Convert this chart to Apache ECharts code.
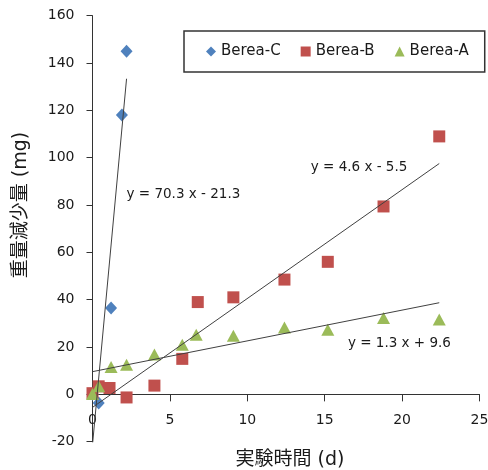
<!DOCTYPE html>
<html>
<head>
<meta charset="utf-8">
<script src="https://cdn.jsdelivr.net/npm/echarts@6/dist/echarts.min.js"></script>
<style>
html,body{margin:0;padding:0;background:#fff;}
#chart{width:488px;height:470px;}
</style>
</head>
<body>
<div id="chart"></div>
<script>
// ---- data ----
var seriesNames = ['Berea-C', 'Berea-B', 'Berea-A'];
var xC = [0, 0.4, 1.2, 1.9, 2.2];
var yC = [0, -3.6, 36.5, 118, 145];
var xB = [0, 0.4, 1.1, 2.2, 4.0, 5.8, 6.8, 9.1, 12.4, 15.2, 18.8, 22.4];
var yB = [0.5, 3.4, 2.7, -1.3, 3.7, 15, 39, 41, 48.5, 56, 79.4, 109];
var xA = [0, 0.4, 1.2, 2.2, 4.0, 5.8, 6.7, 9.1, 12.4, 15.2, 18.8, 22.4];
var yA = [0.2, 3.4, 11.6, 12.5, 16.8, 21, 25.2, 24.8, 28.3, 27.3, 32.3, 31.6];
var slopes = [70.3, 4.6, 1.3];
var intercepts = [-21.3, -5.5, 9.6];
var equations = ['y = 70.3 x - 21.3', 'y = 4.6 x - 5.5', 'y = 1.3 x + 9.6'];
var xTitle = '実験時間 (d)';
var yTitle = '重量減少量 (mg)';
var xRange = [0, 25, 5];
var yRange = [-20, 160, 20];

// ---- build ----
var xs = [xC, xB, xA];
var ys = [yC, yB, yA];
var colors = ['#4F81BD', '#C0504D', '#9BBB59'];
var symbols = ['diamond', 'rect', 'triangle'];
var symSizes = [[12, 13], [12, 12], [13, 12]];
var labelAnchors = [[2.2, 84.4], [14.1, 95.8], [16.5, 21.3]];
var FONT = "'DejaVu Sans', 'Noto Sans CJK JP', sans-serif";
var TXT = '#1a1a1a';

var W = 488, H = 470;
var G = { left: 92.5, right: 8.5, top: 15.7, bottom: 28.3 };
var gridH = H - G.top - G.bottom;
// x axis sits on y = 0
var zeroOffset = -gridH * (0 - yRange[0]) / (yRange[1] - yRange[0]);

function pairs(x, y) { return x.map(function (v, i) { return [v, y[i]]; }); }

var series = [];
for (var i = 0; i < 3; i++) {
  series.push({
    name: seriesNames[i], type: 'scatter', data: pairs(xs[i], ys[i]),
    symbol: symbols[i], symbolSize: symSizes[i],
    itemStyle: { color: colors[i], opacity: 1 }, z: 2 + i
  });
}
for (var j = 0; j < 3; j++) {
  var x0 = Math.min.apply(null, xs[j]);
  var x1 = Math.max.apply(null, xs[j]);
  series.push({
    name: 'trend' + j, type: 'line', clip: true, silent: true,
    data: [[x0, slopes[j] * x0 + intercepts[j]], [x1, slopes[j] * x1 + intercepts[j]]],
    symbol: 'none', lineStyle: { color: '#404040', width: 1 }, z: 10,
    markPoint: {
      symbol: 'circle', symbolSize: 0, silent: true,
      data: [{ coord: labelAnchors[j] }],
      label: { show: true, position: 'inside', align: 'left', verticalAlign: 'middle',
        formatter: equations[j], color: TXT, fontSize: 13.5, fontFamily: FONT }
    }
  });
}

var chart = echarts.init(document.getElementById('chart'), null, { renderer: 'canvas' });
chart.setOption({
  animation: false,
  backgroundColor: '#fff',
  grid: { left: G.left, right: G.right, top: G.top, bottom: G.bottom, containLabel: false, outerBoundsMode: 'none' },
  legend: {
    data: seriesNames, left: 184, top: 31,
    padding: [13, 16, 13, 22], itemGap: 20, itemWidth: 10, itemHeight: 10,
    borderColor: '#333', borderWidth: 1.5, backgroundColor: '#fff',
    textStyle: { fontSize: 15, color: TXT, fontFamily: FONT }
  },
  xAxis: {
    type: 'value', min: xRange[0], max: xRange[1], interval: xRange[2],
    offset: zeroOffset,
    axisLine: { onZero: false, lineStyle: { color: '#333', width: 1 } },
    axisTick: { show: true, length: 7, lineStyle: { color: '#333' } },
    axisLabel: { margin: 19, fontSize: 14, color: TXT, fontFamily: FONT },
    splitLine: { show: false }
  },
  yAxis: {
    type: 'value', min: yRange[0], max: yRange[1], interval: yRange[2],
    axisLine: { show: true, onZero: false, lineStyle: { color: '#333', width: 1 } },
    axisTick: { show: true, length: 6, lineStyle: { color: '#333' } },
    axisLabel: { margin: 18, fontSize: 14, color: TXT, fontFamily: FONT },
    splitLine: { show: false }
  },
  graphic: [
    { type: 'text', x: 290, y: 460,
      style: { text: xTitle, fontSize: 19, fill: TXT, fontFamily: FONT, align: 'center', verticalAlign: 'middle' } },
    { type: 'text', x: 21, y: 205, rotation: Math.PI / 2,
      style: { text: yTitle, fontSize: 19, fill: TXT, fontFamily: FONT, align: 'center', verticalAlign: 'middle' } }
  ],
  series: series
});
</script>
</body>
</html>
